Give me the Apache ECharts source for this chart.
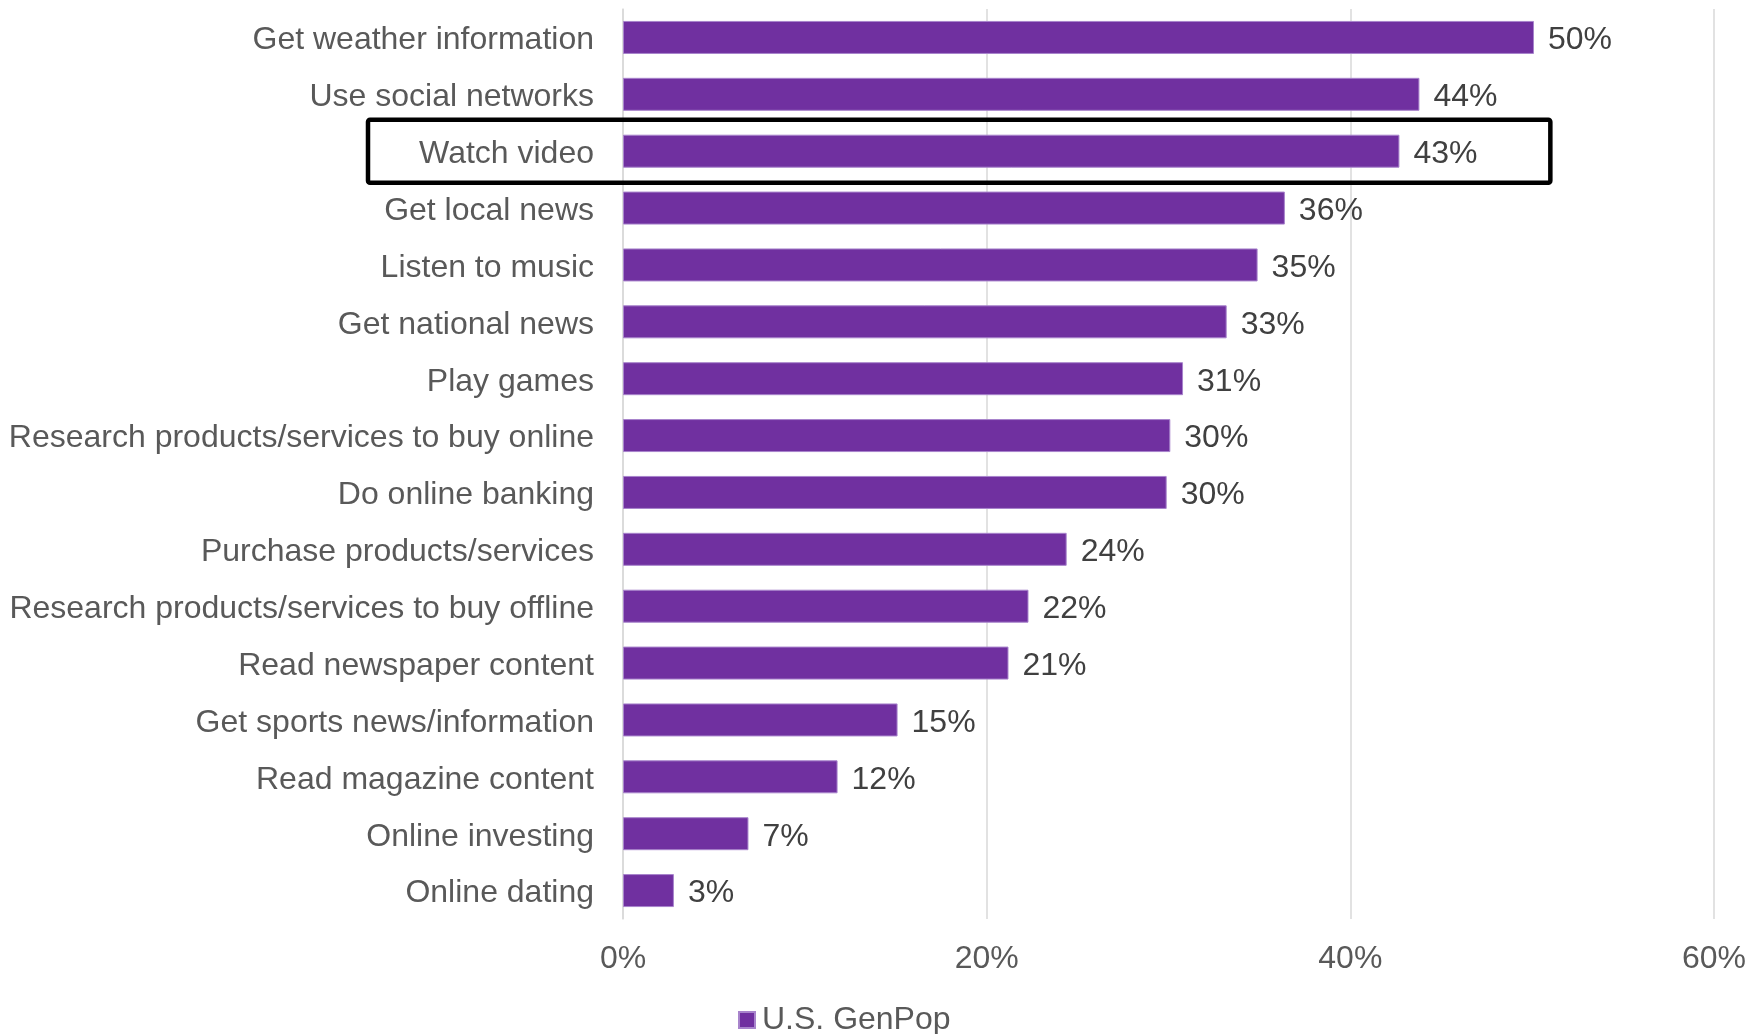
<!DOCTYPE html>
<html>
<head>
<meta charset="utf-8">
<title>Online activities</title>
<script src="https://cdn.jsdelivr.net/npm/echarts@6/dist/echarts.min.js"></script>
<style>
  html, body { margin: 0; padding: 0; background: #fff; }
  #chart { width: 1760px; height: 1034px; }
</style>
</head>
<body>
<div id="chart"></div>
<script>
// categories, top to bottom as in the picture
const activities = [
    "Get weather information",
    "Use social networks",
    "Watch video",
    "Get local news",
    "Listen to music",
    "Get national news",
    "Play games",
    "Research products/services to buy online",
    "Do online banking",
    "Purchase products/services",
    "Research products/services to buy offline",
    "Read newspaper content",
    "Get sports news/information",
    "Read magazine content",
    "Online investing",
    "Online dating"
]
// share of U.S. GenPop, percent
const genPop = [50.1, 43.8, 42.7, 36.4, 34.9, 33.2, 30.8, 30.1, 29.9, 24.4, 22.3, 21.2, 15.1, 11.8, 6.9, 2.8]
const xTicks = [0, 20, 40, 60]
const highlighted = "Watch video"

const font = "'Liberation Sans', Arial, sans-serif"

var chart = echarts.init(document.getElementById('chart'), null, {renderer: 'canvas'});

var option = {
    animation: false,
    textStyle: {fontFamily: font},
    grid: {
        left: 623,
        right: 46,
        top: 9,
        bottom: 115,
        containLabel: false
    },
    legend: {
        left: 733,
        top: 999,
        itemWidth: 16,
        itemHeight: 16,
        icon: 'rect',
        textStyle: {fontSize: 32, color: '#595959', fontFamily: font, padding: [0, 0, 0, 2]},
        data: ['U.S. GenPop']
    },
    xAxis: {
        type: 'value',
        min: xTicks[0],
        max: xTicks[xTicks.length - 1],
        interval: xTicks[1] - xTicks[0],
        axisLine: {show: false},
        axisTick: {show: false},
        axisLabel: {
            formatter: '{value}%',
            fontSize: 32,
            color: '#595959',
            margin: 24
        },
        splitLine: {lineStyle: {color: '#d9d9d9', width: 1.5}}
    },
    yAxis: {
        type: 'category',
        inverse: true,
        data: activities,
        axisLine: {lineStyle: {color: '#d9d9d9', width: 1.5}},
        axisTick: {show: false},
        axisLabel: {
            fontSize: 32,
            color: '#595959',
            margin: 29,
            // nudge the text a few px down so it sits level with the bar
            verticalAlign: 'top',
            lineHeight: 6
        }
    },
    series: [{
        name: 'U.S. GenPop',
        type: 'bar',
        data: genPop,
        barWidth: 33,
        itemStyle: {color: '#7030a0', borderColor: '#a884cc', borderWidth: 1},
        label: {
            show: true,
            position: 'right',
            distance: 14,
            offset: [0, 3],
            fontSize: 32,
            color: '#404040',
            formatter: p => Math.round(p.value) + '%'
        }
    }]
};

chart.setOption(option)

// black frame around the highlighted row, placed from the axis scales
function drawFrame() {
    const yc = chart.convertToPixel({yAxisIndex: 0}, highlighted)
    const x0 = chart.convertToPixel({xAxisIndex: 0}, 0)
    const x1 = chart.convertToPixel({xAxisIndex: 0}, 51)
    const band = chart.convertToPixel({yAxisIndex: 0}, activities[1]) - chart.convertToPixel({yAxisIndex: 0}, activities[0])
    const h = band + 6
    chart.setOption({
        graphic: [{
            type: 'rect',
            shape: {x: x0 - 255, y: yc - h / 2, width: x1 - x0 + 255, height: h, r: 2},
            style: {fill: 'none', stroke: '#000', lineWidth: 4.5},
            z: 100
        }]
    })
}
drawFrame()
</script>
</body>
</html>
